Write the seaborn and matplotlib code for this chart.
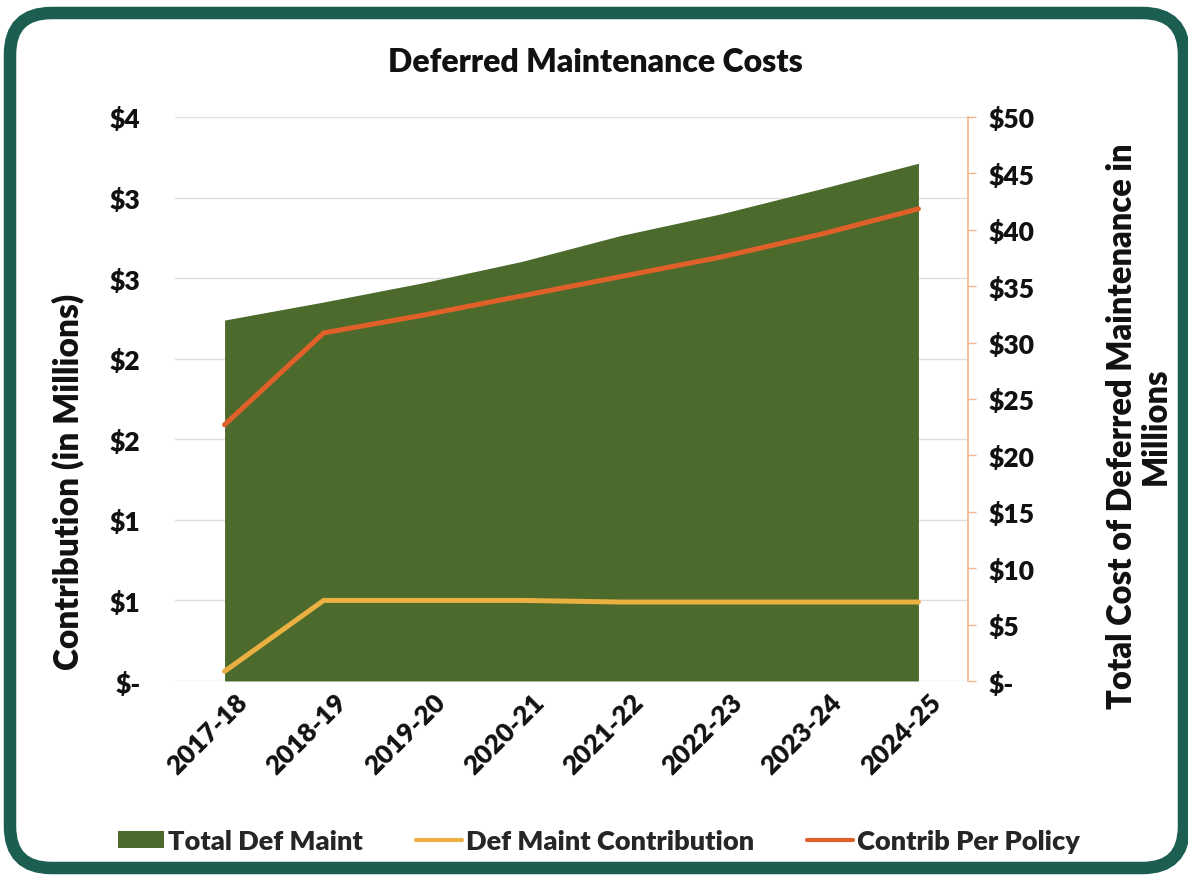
import numpy as np
import pandas as pd
import matplotlib
matplotlib.use("Agg")
import matplotlib.pyplot as plt
import matplotlib.transforms as mtransforms
from matplotlib.patches import FancyBboxPatch, Patch
from matplotlib.lines import Line2D
import seaborn as sns

# ---- data ----
years = ["2017-18", "2018-19", "2019-20", "2020-21", "2021-22", "2022-23", "2023-24", "2024-25"]
total_def_maint = [32.0, 33.6, 35.3, 37.2, 39.5, 41.4, 43.6, 45.9]          # right axis ($M)
def_maint_contribution = [0.06, 0.50, 0.50, 0.50, 0.49, 0.49, 0.49, 0.49]  # left axis ($M)
contrib_per_policy = [1.59, 2.16, 2.27, 2.39, 2.51, 2.63, 2.77, 2.93]       # left axis ($M)
left_ticks = [0, 0.5, 1.0, 1.5, 2.0, 2.5, 3.0, 3.5]
left_labels = ["$-", "$1", "$1", "$2", "$2", "$3", "$3", "$4"]
right_ticks = [0, 5, 10, 15, 20, 25, 30, 35, 40, 45, 50]
right_labels = ["$-"] + [f"${v}" for v in right_ticks[1:]]

GREEN = "#4b6a2c"
YELLOW = "#eab042"
RED = "#e0602a"
TEAL = "#1d5e52"
SPINE = "#f5b48c"
WEIGHT = "heavy"
INK = "#111111"

sns.set_theme(style="white")
plt.rcParams["font.family"] = ["Lato", "DejaVu Sans"]
plt.rcParams["font.weight"] = WEIGHT

W, H = 1188, 879
fig = plt.figure(figsize=(W / 100, H / 100), dpi=100)
fig.patch.set_facecolor("white")

# card border
card = FancyBboxPatch((10 / W, 10 / H), (W - 4) / W - 10 / W, (H - 14) / H - 10 / H,
                      boxstyle="round,pad=0,rounding_size=0.035",
                      transform=fig.transFigure, facecolor="white",
                      edgecolor=TEAL, linewidth=9, zorder=-5, mutation_aspect=W / H)
fig.patches.append(card)

L, R, T, B = 175, 968, 118, 682
rect = [L / W, 1 - B / H, (R - L) / W, (B - T) / H]
df = pd.DataFrame({"idx": np.arange(len(years)), "year": years,
                   "total": total_def_maint, "contrib": def_maint_contribution,
                   "policy": contrib_per_policy})

# bottom layer: left scale, gridlines
ax = fig.add_axes(rect)
ax.set_facecolor("none")
ax.set_xlim(-0.5, len(years) - 0.5)
ax.set_ylim(0, 3.5)
ax.set_yticks(left_ticks)
ax.set_yticklabels(left_labels, fontweight=WEIGHT)
ax.grid(axis="y", color="#dedede", linewidth=1)
ax.grid(axis="x", visible=False)
for s in ax.spines.values():
    s.set_visible(False)
ax.tick_params(axis="y", length=0, pad=25, labelsize=19, labelcolor=INK)
ax.set_xticks(df["idx"])
ax.set_xticklabels(years, rotation=45, ha="right", rotation_mode="anchor",
                   fontsize=19, color=INK, fontweight=WEIGHT)
ax.tick_params(axis="x", length=0, pad=6)
shift = mtransforms.ScaledTranslation(10 / 100, 0, fig.dpi_scale_trans)
for lab in ax.get_xticklabels():
    lab.set_transform(lab.get_transform() + shift)

# middle layer: right scale with area
ax2 = ax.twinx()
ax2.set_ylim(0, 50)
ax2.fill_between(df["idx"], 0, df["total"], color=GREEN, linewidth=0)
ax2.set_yticks(right_ticks)
ax2.set_yticklabels(right_labels, fontweight=WEIGHT)
ax2.grid(False)
for k, s in ax2.spines.items():
    s.set_visible(k == "right")
ax2.spines["right"].set_color(SPINE)
ax2.spines["right"].set_linewidth(1.2)
ax2.tick_params(axis="y", right=True, length=6, width=1, color=SPINE, direction="out",
                pad=9, labelsize=19, labelcolor=INK)

# top layer: lines on left scale
ax3 = fig.add_axes(rect, sharex=ax, sharey=ax)
ax3.set_facecolor("none")
sns.lineplot(data=df, x="idx", y="contrib", ax=ax3, color=YELLOW, linewidth=3.6)
sns.lineplot(data=df, x="idx", y="policy", ax=ax3, color=RED, linewidth=3.6)
ax3.axis("off")

fig.text(595 / W, 1 - 63 / H, "Deferred Maintenance Costs", ha="center", va="center",
         fontsize=23, fontweight=WEIGHT, color=INK)
fig.text(68 / W, 1 - 482 / H, "Contribution (in Millions)", rotation=90,
         ha="center", va="center", fontsize=24, fontweight=WEIGHT, color=INK)
fig.text(1139 / W, 1 - 426 / H, "Total Cost of Deferred Maintenance in\nMillions",
         rotation=90, ha="center", va="center", fontsize=23.5, fontweight=WEIGHT,
         color=INK, linespacing=1.05)

handles = [Patch(facecolor=GREEN, edgecolor="none"),
           Line2D([0], [0], color=YELLOW, linewidth=3),
           Line2D([0], [0], color=RED, linewidth=3)]
labels = ["Total Def Maint", "Def Maint Contribution", "Contrib Per Policy"]
fig.legend(handles, labels, loc="center", bbox_to_anchor=(599 / W, 1 - 842 / H),
           ncol=3, frameon=False, handlelength=1.7, handleheight=0.6,
           handletextpad=0.15, columnspacing=1.95, prop={"weight": WEIGHT, "size": 19.5})

fig.savefig("out.png", dpi=100, facecolor="white")
